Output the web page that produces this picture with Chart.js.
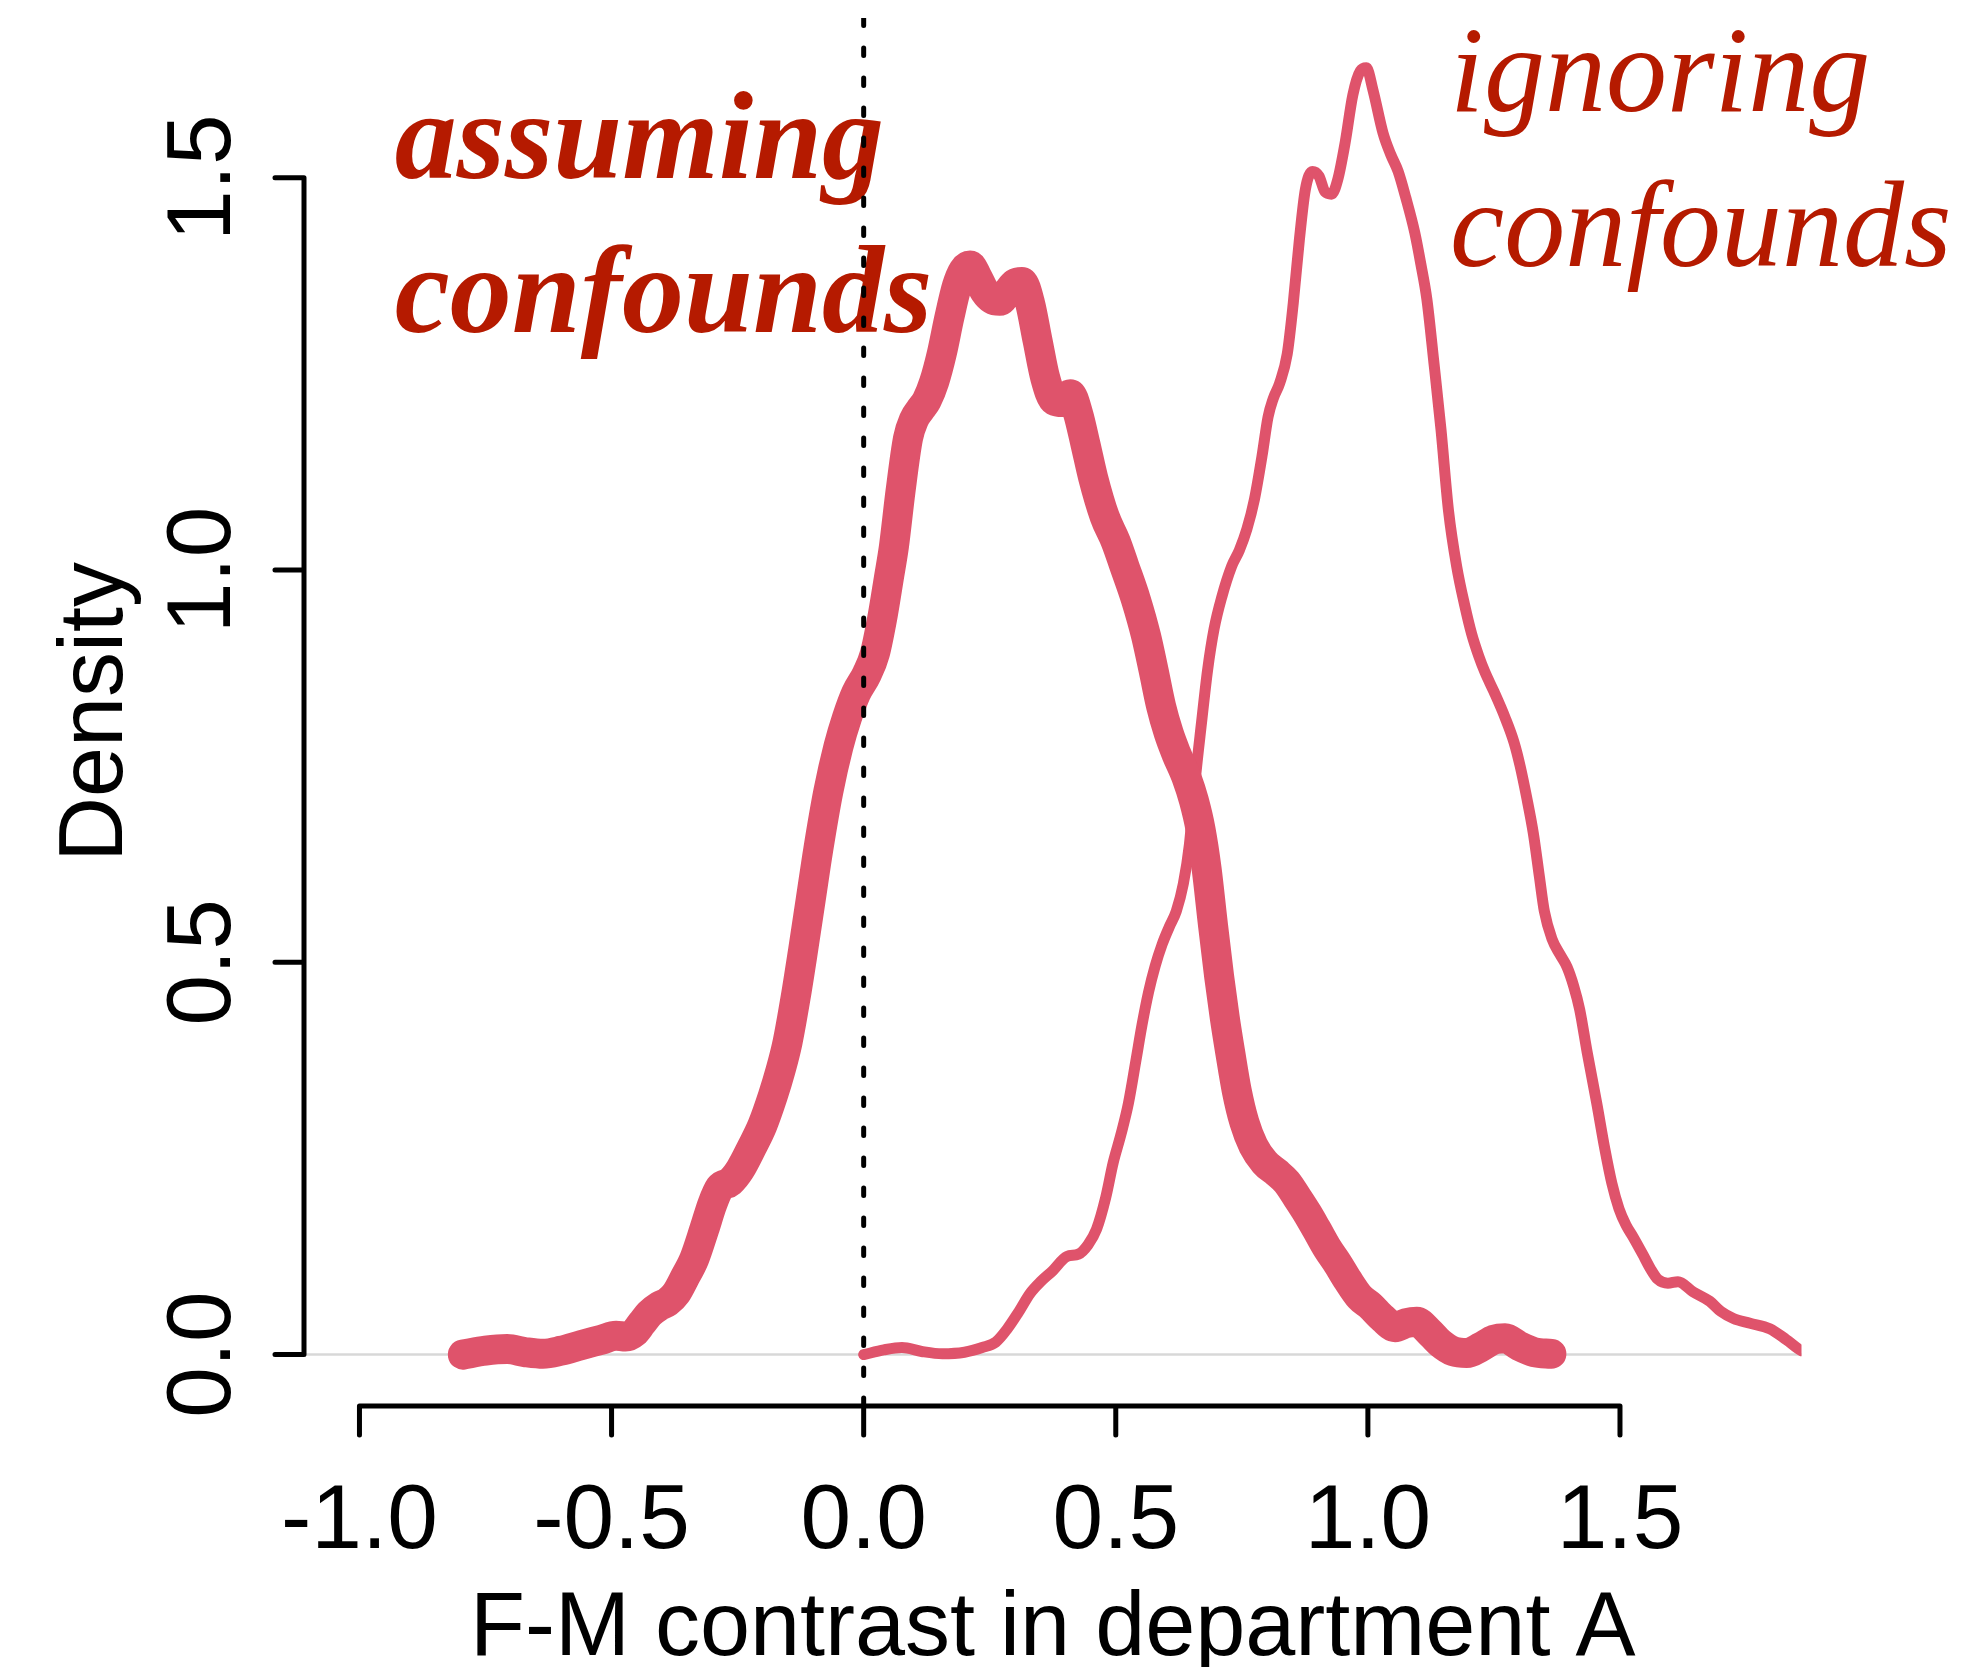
<!DOCTYPE html>
<html>
<head>
<meta charset="utf-8">
<script src="https://cdn.jsdelivr.net/npm/chart.js@4/dist/chart.umd.min.js"></script>
<style>
html,body{margin:0;padding:0;background:#ffffff;}
canvas{display:block;}
</style>
</head>
<body>
<canvas id="c" width="1979" height="1667"></canvas>
<script>
// ---- data ----
const xTicks = [-1.0, -0.5, 0.0, 0.5, 1.0, 1.5];
const yTicks = [0.0, 0.5, 1.0, 1.5];
const xTitle = "F-M contrast in department A";
const yTitle = "Density";
const labelAssuming = ["assuming", "confounds"];
const labelIgnoring = ["ignoring", "confounds"];

const assumingX = [-0.795,-0.750,-0.707,-0.670,-0.636,-0.600,-0.561,-0.520,-0.491,-0.472,-0.455,-0.440,-0.425,-0.405,-0.389,-0.372,-0.355,-0.336,-0.316,-0.300,-0.285,-0.265,-0.245,-0.222,-0.201,-0.180,-0.165,-0.151,-0.135,-0.120,-0.105,-0.090,-0.070,-0.050,-0.033,-0.015,0.006,0.022,0.038,0.050,0.060,0.073,0.088,0.100,0.112,0.125,0.140,0.155,0.170,0.185,0.198,0.211,0.225,0.240,0.255,0.270,0.285,0.300,0.314,0.330,0.345,0.360,0.378,0.395,0.410,0.425,0.440,0.455,0.478,0.500,0.517,0.540,0.560,0.575,0.590,0.605,0.620,0.640,0.655,0.668,0.680,0.692,0.705,0.716,0.727,0.740,0.755,0.773,0.795,0.819,0.839,0.860,0.880,0.898,0.920,0.940,0.960,0.984,1.005,1.030,1.054,1.075,1.097,1.120,1.143,1.170,1.196,1.225,1.250,1.272,1.300,1.330,1.364];
const assumingY = [0.000,0.005,0.007,0.003,0.001,0.005,0.012,0.019,0.024,0.023,0.028,0.040,0.052,0.062,0.067,0.078,0.098,0.122,0.160,0.192,0.213,0.220,0.236,0.264,0.292,0.330,0.362,0.398,0.455,0.516,0.580,0.644,0.718,0.775,0.812,0.843,0.867,0.893,0.943,0.990,1.030,1.100,1.168,1.192,1.204,1.216,1.240,1.276,1.322,1.362,1.382,1.388,1.374,1.355,1.345,1.343,1.354,1.365,1.367,1.340,1.292,1.245,1.216,1.214,1.224,1.200,1.160,1.118,1.068,1.036,1.005,0.962,0.916,0.872,0.826,0.792,0.766,0.736,0.706,0.670,0.620,0.552,0.482,0.430,0.385,0.336,0.296,0.266,0.245,0.232,0.220,0.200,0.180,0.160,0.135,0.116,0.095,0.073,0.062,0.046,0.035,0.040,0.042,0.030,0.015,0.004,0.002,0.010,0.019,0.021,0.011,0.003,0.001];

const ignoringX = [0.000,0.040,0.076,0.115,0.156,0.200,0.235,0.262,0.285,0.306,0.330,0.351,0.375,0.403,0.426,0.445,0.462,0.480,0.495,0.510,0.525,0.540,0.552,0.565,0.578,0.592,0.606,0.620,0.634,0.646,0.658,0.670,0.682,0.695,0.710,0.730,0.745,0.760,0.775,0.790,0.802,0.812,0.825,0.840,0.852,0.864,0.876,0.890,0.903,0.915,0.928,0.940,0.955,0.970,0.985,0.997,1.010,1.030,1.045,1.060,1.075,1.093,1.105,1.117,1.131,1.145,1.160,1.176,1.192,1.206,1.220,1.232,1.250,1.272,1.290,1.302,1.315,1.328,1.340,1.350,1.365,1.381,1.395,1.408,1.420,1.435,1.454,1.470,1.484,1.498,1.512,1.526,1.545,1.560,1.575,1.595,1.615,1.645,1.678,1.700,1.725,1.758,1.797,1.830,1.860,1.900];
const ignoringY = [0.000,0.006,0.009,0.004,0.001,0.003,0.009,0.016,0.033,0.053,0.078,0.093,0.107,0.125,0.128,0.140,0.160,0.200,0.245,0.280,0.320,0.375,0.420,0.462,0.495,0.523,0.545,0.565,0.600,0.650,0.735,0.805,0.872,0.925,0.965,1.005,1.025,1.052,1.090,1.145,1.195,1.218,1.238,1.275,1.340,1.420,1.485,1.508,1.502,1.482,1.479,1.497,1.545,1.605,1.636,1.640,1.612,1.557,1.530,1.508,1.475,1.430,1.390,1.345,1.264,1.179,1.075,1.005,0.955,0.918,0.890,0.870,0.845,0.812,0.780,0.750,0.710,0.665,0.610,0.565,0.530,0.510,0.494,0.470,0.440,0.385,0.320,0.262,0.218,0.186,0.165,0.150,0.128,0.110,0.096,0.091,0.093,0.080,0.068,0.055,0.046,0.040,0.033,0.019,0.005,0.000];

// ---- styling ----
const curveColor = '#DF536B';
const textColor = '#B51A00';
const sansFont = '"Liberation Sans", Arial, Helvetica, sans-serif';
const serifFont = '"Liberation Serif", "Times New Roman", serif';

const toPoints = (xs, ys) => xs.map((v, i) => ({x: v, y: ys[i]}));

const rStyle = {
  id: 'rStyle',
  beforeDatasetsDraw(chart) {
    const {ctx, chartArea: a, scales: {x, y}} = chart;
    ctx.save();
    ctx.strokeStyle = '#d8d8d8';
    ctx.lineWidth = 2.5;
    const y0 = y.getPixelForValue(0);
    ctx.beginPath();
    ctx.moveTo(a.left, y0);
    ctx.lineTo(a.right, y0);
    ctx.stroke();
    ctx.restore();
  },
  afterDatasetsDraw(chart) {
    const {ctx, chartArea: a, scales: {x, y}} = chart;
    ctx.save();
    // annotations
    ctx.fillStyle = textColor;
    ctx.textAlign = 'left';
    ctx.textBaseline = 'alphabetic';
    ctx.font = 'italic bold 124px ' + serifFont;
    const ax = x.getPixelForValue(-0.93);
    ctx.fillText(labelAssuming[0], ax, y.getPixelForValue(1.500));
    ctx.fillText(labelAssuming[1], ax, y.getPixelForValue(1.303));
    ctx.font = 'italic 122px ' + serifFont;
    const ix = x.getPixelForValue(1.163);
    ctx.fillText(labelIgnoring[0], ix, y.getPixelForValue(1.585));
    ctx.fillText(labelIgnoring[1], ix, y.getPixelForValue(1.387));

    // dotted vertical line at 0
    ctx.save();
    ctx.beginPath();
    ctx.rect(a.left, a.top, a.right - a.left, a.bottom - a.top);
    ctx.clip();
    ctx.strokeStyle = '#000';
    ctx.lineWidth = 5;
    ctx.lineCap = 'round';
    ctx.setLineDash([7.5, 22.5]);
    const vx = x.getPixelForValue(0);
    ctx.beginPath();
    ctx.moveTo(vx, a.top);
    ctx.lineTo(vx, a.bottom);
    ctx.stroke();
    ctx.restore();

    // axes (R style)
    ctx.strokeStyle = '#000';
    ctx.fillStyle = '#000';
    ctx.lineWidth = 5;
    ctx.lineCap = 'round';
    ctx.setLineDash([]);
    const tick = 29;
    // x axis
    ctx.beginPath();
    ctx.moveTo(x.getPixelForValue(xTicks[0]), a.bottom);
    ctx.lineTo(x.getPixelForValue(xTicks[xTicks.length - 1]), a.bottom);
    xTicks.forEach(v => {
      const px = x.getPixelForValue(v);
      ctx.moveTo(px, a.bottom);
      ctx.lineTo(px, a.bottom + tick);
    });
    ctx.stroke();
    // y axis
    ctx.beginPath();
    ctx.moveTo(a.left, y.getPixelForValue(yTicks[0]));
    ctx.lineTo(a.left, y.getPixelForValue(yTicks[yTicks.length - 1]));
    yTicks.forEach(v => {
      const py = y.getPixelForValue(v);
      ctx.moveTo(a.left, py);
      ctx.lineTo(a.left - tick, py);
    });
    ctx.stroke();

    // tick labels
    ctx.font = '91px ' + sansFont;
    ctx.textAlign = 'center';
    ctx.textBaseline = 'alphabetic';
    xTicks.forEach(v => {
      ctx.fillText(v.toFixed(1), x.getPixelForValue(v), a.bottom + 142);
    });
    yTicks.forEach(v => {
      ctx.save();
      ctx.translate(a.left - 74, y.getPixelForValue(v));
      ctx.rotate(-Math.PI / 2);
      ctx.fillText(v.toFixed(1), 0, 0);
      ctx.restore();
    });
    // titles
    ctx.font = '90px ' + sansFont;
    ctx.fillText(xTitle, (a.left + a.right) / 2, a.bottom + 249);
    ctx.save();
    ctx.translate(a.left - 182, (a.top + a.bottom) / 2);
    ctx.rotate(-Math.PI / 2);
    ctx.fillText(yTitle, 0, 0);
    ctx.restore();
    ctx.restore();
  }
};

new Chart(document.getElementById('c'), {
  type: 'scatter',
  data: {
    datasets: [
      {
        label: 'assuming confounds',
        data: toPoints(assumingX, assumingY),
        showLine: true,
        borderColor: curveColor,
        backgroundColor: curveColor,
        borderWidth: 30,
        pointRadius: 0,
        borderCapStyle: 'round',
        borderJoinStyle: 'round',
        cubicInterpolationMode: 'monotone',
        clip: 0
      },
      {
        label: 'ignoring confounds',
        data: toPoints(ignoringX, ignoringY),
        showLine: true,
        borderColor: curveColor,
        backgroundColor: curveColor,
        borderWidth: 11,
        pointRadius: 0,
        borderCapStyle: 'round',
        borderJoinStyle: 'round',
        cubicInterpolationMode: 'monotone',
        clip: 0
      }
    ]
  },
  options: {
    responsive: false,
    animation: false,
    devicePixelRatio: 1,
    events: [],
    layout: { padding: { left: 304, right: 177.5, top: 18, bottom: 261 } },
    plugins: { legend: { display: false }, tooltip: { enabled: false } },
    scales: {
      x: { type: 'linear', min: -1.11, max: 1.86, display: false },
      y: { type: 'linear', min: -0.0655, max: 1.7035, display: false }
    }
  },
  plugins: [rStyle]
});
</script>
</body>
</html>
